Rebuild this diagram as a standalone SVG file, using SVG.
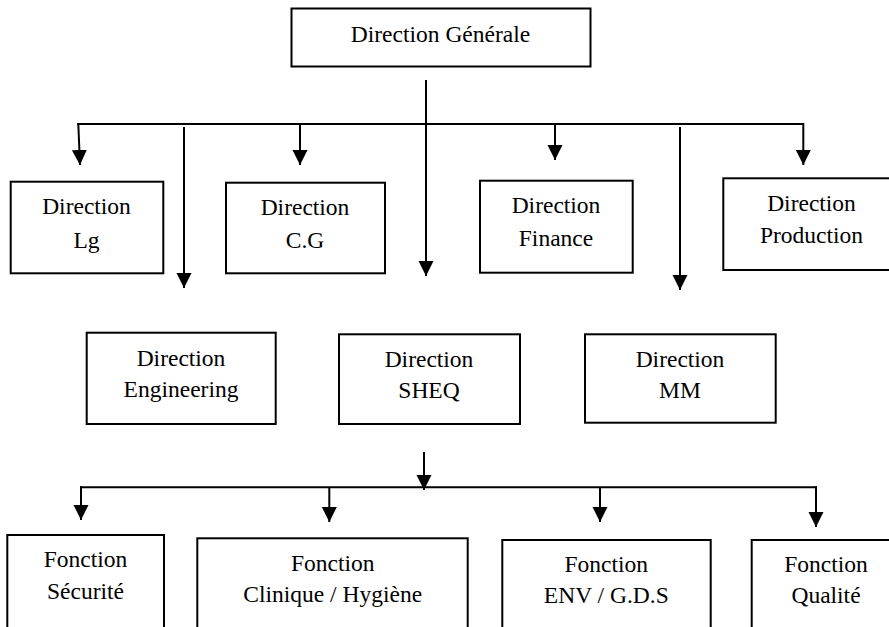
<svg xmlns="http://www.w3.org/2000/svg" width="889" height="627" viewBox="0 0 889 627">
<style>
.box{fill:#fff;stroke:#000;stroke-width:2}
.t{font-size:23.5px;fill:#000;text-anchor:middle}
.c{fill:none;stroke:#000;stroke-width:2}
.a{fill:none;stroke:#000;stroke-width:2;marker-end:url(#ah)}
</style>
<defs>
<marker id="ah" markerUnits="userSpaceOnUse" markerWidth="16" markerHeight="16" refX="15" refY="7.5" orient="auto">
<path d="M0,0 L15,7.5 L0,15 Z" fill="#000"/>
</marker>
</defs>
<rect width="889" height="627" fill="#fff"/>
<g id="connectors">
<line class="a" x1="426" y1="80" x2="426" y2="276"/>
<line class="c" x1="77" y1="124" x2="804" y2="124"/>
<line class="a" x1="78.3" y1="124" x2="80" y2="165"/>
<line class="a" x1="184" y1="127" x2="184" y2="288"/>
<line class="a" x1="300" y1="124" x2="300" y2="165"/>
<line class="a" x1="555" y1="124" x2="555" y2="160"/>
<line class="a" x1="680" y1="127" x2="680" y2="290"/>
<line class="a" x1="803.3" y1="123" x2="803.3" y2="165"/>
<line class="a" x1="424" y1="452" x2="424" y2="490"/>
<line class="c" x1="80" y1="487.3" x2="817" y2="487.3"/>
<line class="a" x1="81" y1="486.3" x2="81" y2="520"/>
<line class="a" x1="329.3" y1="487.3" x2="329.3" y2="522"/>
<line class="a" x1="600" y1="487.3" x2="600" y2="522"/>
<line class="a" x1="816" y1="486.3" x2="816" y2="527"/>
</g>
<g font-family="Liberation Serif, Times New Roman, serif">
<g id="gen"><rect class="box" x="291.5" y="8.5" width="299" height="58"/><text class="t" x="440.5" y="41.5">Direction Générale</text></g>
<g id="lg"><rect class="box" x="10.7" y="181.7" width="152.6" height="91.6"/><text class="t" x="86.5" y="214">Direction</text><text class="t" x="86.5" y="247.5">Lg</text></g>
<g id="cg"><rect class="box" x="226" y="182.7" width="159" height="90.6"/><text class="t" x="305" y="214.5">Direction</text><text class="t" x="305" y="248">C.G</text></g>
<g id="finance"><rect class="box" x="480" y="180.7" width="152.7" height="92"/><text class="t" x="556" y="213">Direction</text><text class="t" x="556" y="246">Finance</text></g>
<g id="production"><rect class="box" x="723.3" y="178.3" width="180" height="91.7"/><text class="t" x="811.5" y="211">Direction</text><text class="t" x="811.5" y="243.3">Production</text></g>
<g id="engineering"><rect class="box" x="86.7" y="332.7" width="189" height="91.3"/><text class="t" x="181" y="366">Direction</text><text class="t" x="181" y="396.7">Engineering</text></g>
<g id="sheq"><rect class="box" x="339" y="334.3" width="181" height="89.7"/><text class="t" x="429" y="366.7">Direction</text><text class="t" x="429" y="398.3">SHEQ</text></g>
<g id="mm"><rect class="box" x="585" y="334.3" width="190.7" height="88.4"/><text class="t" x="680" y="367">Direction</text><text class="t" x="680" y="398.3">MM</text></g>
<g id="securite"><rect class="box" x="7.3" y="535" width="156.7" height="120"/><text class="t" x="85.5" y="567.3">Fonction</text><text class="t" x="85.5" y="599.3">Sécurité</text></g>
<g id="clinique"><rect class="box" x="197.3" y="538.3" width="270.4" height="120"/><text class="t" x="332.7" y="571">Fonction</text><text class="t" x="332.7" y="601.7">Clinique / Hygiène</text></g>
<g id="env"><rect class="box" x="502.3" y="540" width="208.4" height="120"/><text class="t" x="606.3" y="572.3">Fonction</text><text class="t" x="606.3" y="603.3">ENV / G.D.S</text></g>
<g id="qualite"><rect class="box" x="751.7" y="540" width="160" height="120"/><text class="t" x="826" y="572.3">Fonction</text><text class="t" x="826" y="602.7">Qualité</text></g>
</g>
</svg>
